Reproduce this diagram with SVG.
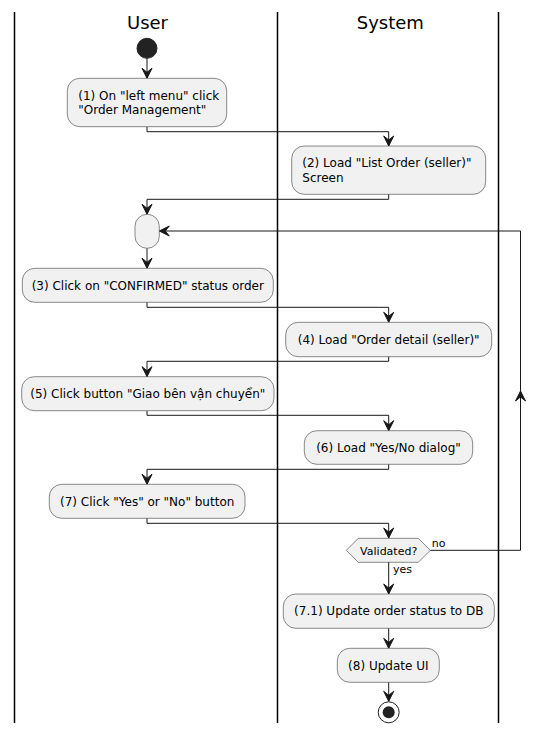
<svg xmlns="http://www.w3.org/2000/svg" width="545" height="735" viewBox="0 0 545 735">
<style>
text{font-family:"DejaVu Sans","Liberation Sans",sans-serif;fill:#000}
.lane{stroke:#000;stroke-width:1.5}
.title{font-size:18px;text-anchor:middle}
.act{fill:#F1F1F1;stroke:#181818;stroke-width:0.5}
.t{font-size:12px}
.c{text-anchor:middle}
.s{font-size:11px}
.conn path{fill:none;stroke:#181818;stroke-width:1;marker-end:url(#ah)}
</style>
<defs>
<marker id="ah" markerUnits="userSpaceOnUse" markerWidth="12" markerHeight="12" viewBox="-11 -6 12 12" refX="0" refY="0" orient="auto">
<path d="M0,0 L-10,-5 L-6,0 L-10,5 Z" fill="#181818" stroke="#181818" stroke-width="1"/>
</marker>
</defs>
<rect width="545" height="735" fill="#fff"/>
<g id="lanes">
<line class="lane" x1="14.5" y1="12" x2="14.5" y2="723"/>
<line class="lane" x1="277.5" y1="12" x2="277.5" y2="723"/>
<line class="lane" x1="498.5" y1="12" x2="498.5" y2="723"/>
<text class="title" x="147.5" y="28.5">User</text>
<text class="title" x="390.3" y="28.5">System</text>
</g>
<g class="conn" id="connectors">
<path d="M147,58.3 V78.3"/>
<path d="M147,126.7 V131.7 H388.7 V146"/>
<path d="M388.7,194.3 V199.3 H147 V214.3"/>
<path d="M147,248.3 V268.3"/>
<path d="M147,302.3 V307.3 H388.7 V322.3"/>
<path d="M388.7,356.7 V361.3 H147 V376.7"/>
<path d="M147,410.7 V415.3 H388.7 V430.7"/>
<path d="M388.7,464.3 V469.3 H147 V484.3"/>
<path d="M147,518.3 V523.3 H388.7 V538"/>
<path d="M388.7,562 V594"/>
<path d="M388.7,628.3 V648.3"/>
<path d="M388.7,682.3 V701.3"/>
<path d="M430.3,550.3 H520.5 V391"/>
<path d="M520.5,392 V231 H159.3"/>
</g>
<g id="start"><circle cx="147" cy="48.3" r="10" fill="#222" stroke="#222" stroke-width="1"/></g>
<g id="a1">
<rect class="act" x="67.3" y="78.3" width="159.4" height="48.4" rx="12.5"/>
<text class="t" x="78.3" y="100">(1) On "left menu" click</text>
<text class="t" x="78.3" y="114">"Order Management"</text>
</g>
<g id="a2">
<rect class="act" x="291.7" y="146" width="194" height="48.3" rx="12.5"/>
<text class="t" x="302.3" y="167">(2) Load "List Order (seller)"</text>
<text class="t" x="302.3" y="181.5">Screen</text>
</g>
<g id="merge">
<rect class="act" x="135" y="214.3" width="24.3" height="34" rx="12"/>
</g>
<g id="a3">
<rect class="act" x="22.3" y="268.3" width="251" height="34" rx="12.5"/>
<text class="t c" x="147.8" y="289.5">(3) Click on "CONFIRMED" status order</text>
</g>
<g id="a4">
<rect class="act" x="285.7" y="322.3" width="206" height="34.4" rx="12.5"/>
<text class="t c" x="388.7" y="343.7">(4) Load "Order detail (seller)"</text>
</g>
<g id="a5">
<rect class="act" x="21.7" y="376.7" width="252.3" height="34" rx="12.5"/>
<text class="t c" x="147.8" y="398.3">(5) Click button "Giao bên vận chuyển"</text>
</g>
<g id="a6">
<rect class="act" x="304.3" y="430.7" width="168.4" height="33.6" rx="12.5"/>
<text class="t c" x="388.5" y="452">(6) Load "Yes/No dialog"</text>
</g>
<g id="a7">
<rect class="act" x="49.3" y="484.3" width="195.7" height="34" rx="12.5"/>
<text class="t c" x="147.2" y="505.8">(7) Click "Yes" or "No" button</text>
</g>
<g id="decision">
<polygon class="act" points="346.3,550.3 358.3,538.3 418.3,538.3 430.3,550.3 418.3,562.3 358.3,562.3"/>
<text class="s c" x="388.7" y="554.5">Validated?</text>
<text class="s" x="431.7" y="547">no</text>
<text class="s" x="393" y="573">yes</text>
</g>
<g id="a71">
<rect class="act" x="283.3" y="594" width="211" height="34.3" rx="12.5"/>
<text class="t c" x="388.8" y="615.3">(7.1) Update order status to DB</text>
</g>
<g id="a8">
<rect class="act" x="337.3" y="648.3" width="102" height="34" rx="12.5"/>
<text class="t c" x="388.3" y="669.5">(8) Update UI</text>
</g>
<g id="end">
<circle cx="388.7" cy="712.3" r="10.5" fill="none" stroke="#222" stroke-width="1"/>
<circle cx="388.7" cy="712.3" r="6" fill="#222"/>
</g>
</svg>
